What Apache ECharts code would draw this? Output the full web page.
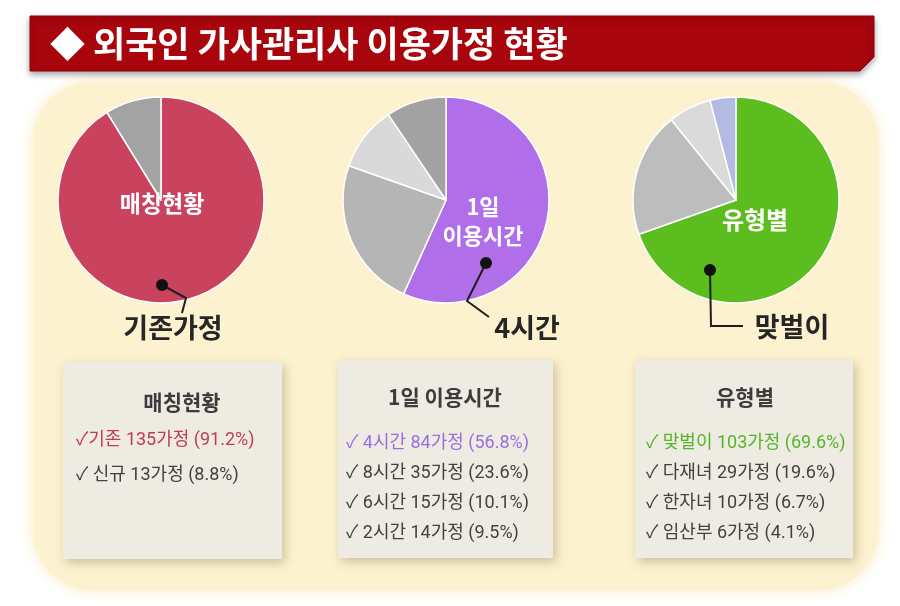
<!DOCTYPE html>
<html>
<head>
<meta charset="utf-8">
<script src="https://cdn.jsdelivr.net/npm/echarts@6/dist/echarts.min.js"></script>
<style>
  html, body { margin: 0; padding: 0; background: #ffffff; }
  #chart { width: 900px; height: 606px; }
</style>
</head>
<body>
<div id="chart"></div>
<script>
// 데이터
const titleText = '◆ 외국인 가사관리사 이용가정 현황';

const matchTitle = '매칭현황';
const matchNames = ['기존', '신규'];
const matchCounts = [135, 13];
const matchPcts = ['91.2', '8.8'];

const hourTitle = '1일 이용시간';
const hourNames = ['4시간', '8시간', '6시간', '2시간'];
const hourCounts = [84, 35, 15, 14];
const hourPcts = ['56.8', '23.6', '10.1', '9.5'];

const typeTitle = '유형별';
const typeNames = ['맞벌이', '다재녀', '한자녀', '임산부'];
const typeCounts = [103, 29, 10, 6];
const typePcts = ['69.6', '19.6', '6.7', '4.1'];

// 색상
const matchColors = ['#c9435f', '#a3a3a3'];
const hourColors = ['#b06fe9', '#b5b5b5', '#d9d9d9', '#a2a2a2'];
const typeColors = ['#5cbd1f', '#bdbdbd', '#dadada', '#b3bbe2'];
const accent = ['#c23a58', '#9b6fe0', '#58b52a'];

const FONT = "'Noto Sans CJK KR', 'DejaVu Sans', sans-serif";
const LINE_FONT = "Roboto, 'Noto Sans CJK KR', 'DejaVu Sans', sans-serif";

const chart = echarts.init(document.getElementById('chart'), null, {renderer: 'canvas'});

function pieSeries(names, counts, colors, cx) {
  return {
    type: 'pie',
    center: [cx, 200],
    radius: [0, 103],
    startAngle: 90,
    silent: true,
    label: {show: false},
    labelLine: {show: false},
    itemStyle: {borderColor: '#ffffff', borderWidth: 1.5},
    data: names.map((n, i) => ({name: n, value: counts[i], itemStyle: {color: colors[i]}}))
  };
}

function box(x, y, w, h) {
  return {
    type: 'rect', z: 1,
    shape: {x: x, y: y, width: w, height: h},
    style: {fill: '#eeebe3', shadowBlur: 10, shadowOffsetX: 3, shadowOffsetY: 4, shadowColor: 'rgba(120,100,60,0.35)'}
  };
}

function txt(x, y, s, size, color, weight, align, family) {
  return {
    type: 'text', z: 50, x: x, y: y,
    style: {text: s, fontSize: size, fill: color, fontWeight: weight || 'normal',
      fontFamily: family || FONT, align: align || 'center', verticalAlign: 'middle'}
  };
}

function boxLines(names, counts, pcts, x, y0, step, firstColor, sep) {
  return names.map((n, i) => txt(x, y0 + i * step,
    '✓' + (i === 0 ? sep : ' ') + n + ' ' + counts[i] + '가정 (' + pcts[i] + '%)',
    18, i === 0 ? firstColor : '#424242', 'normal', 'left', LINE_FONT));
}

function leader(points, dot) {
  return [
    {type: 'polyline', z: 40, shape: {points: points}, style: {stroke: '#1e1e1e', lineWidth: 2, fill: null}},
    {type: 'circle', z: 41, shape: {cx: dot[0], cy: dot[1], r: 6}, style: {fill: '#111111'}}
  ];
}

const elements = [
  // 배경 패널
  {type: 'rect', z: 0, shape: {x: 33, y: 82, width: 845, height: 508, r: 60},
    style: {fill: '#fdf2cf', shadowBlur: 14, shadowColor: 'rgba(250,232,180,0.9)'}},
  // 제목 띠
  {type: 'polygon', z: 2, shape: {points: [[30, 16], [874, 16], [874, 57], [860, 71], [30, 71]]},
    style: {fill: '#a8050d', stroke: '#8e0309', lineWidth: 1, shadowBlur: 6, shadowOffsetY: 3, shadowColor: 'rgba(0,0,0,0.35)'}},
  txt(50, 44, titleText, 35, '#ffffff', 'bold', 'left'),
  // 파이 중앙 문구
  txt(162, 203, matchTitle, 23, '#ffffff', 'bold'),
  txt(483, 207, '1일', 22, '#ffffff', 'bold'),
  txt(483, 236, '이용시간', 22, '#ffffff', 'bold'),
  txt(755, 220, typeTitle, 24, '#ffffff', 'bold'),
  // 지시선
  ...leader([[162, 285], [186, 298], [182, 313]], [162, 285]),
  ...leader([[486, 263], [467, 301], [489, 317]], [486, 263]),
  ...leader([[710, 270], [711, 326], [743, 326]], [710, 270]),
  txt(173, 328, matchNames[0] + '가정', 27, '#262626', 'bold'),
  txt(527, 328, hourNames[0], 27, '#262626', 'bold'),
  txt(792, 327, typeNames[0], 27, '#262626', 'bold'),
  // 설명 상자
  box(63, 362, 219, 197),
  box(338, 360, 215, 198),
  box(635, 360, 218, 198),
  txt(182, 402, matchTitle, 21, '#3c3c3c', 'bold'),
  txt(445, 397, hourTitle, 21, '#3c3c3c', 'bold'),
  txt(745, 397, typeTitle, 21, '#3c3c3c', 'bold'),
  ...boxLines(matchNames, matchCounts, matchPcts, 76, 440, 35, accent[0], ''),
  ...boxLines(hourNames, hourCounts, hourPcts, 346, 443, 30, accent[1], ' '),
  ...boxLines(typeNames, typeCounts, typePcts, 646, 443, 30, accent[2], ' ')
];

chart.setOption({
  backgroundColor: '#ffffff',
  animation: false,
  series: [
    pieSeries(matchNames, matchCounts, matchColors, 161),
    pieSeries(hourNames, hourCounts, hourColors, 446),
    pieSeries(typeNames, typeCounts, typeColors, 736)
  ],
  graphic: {elements: elements}
});
</script>
</body>
</html>
